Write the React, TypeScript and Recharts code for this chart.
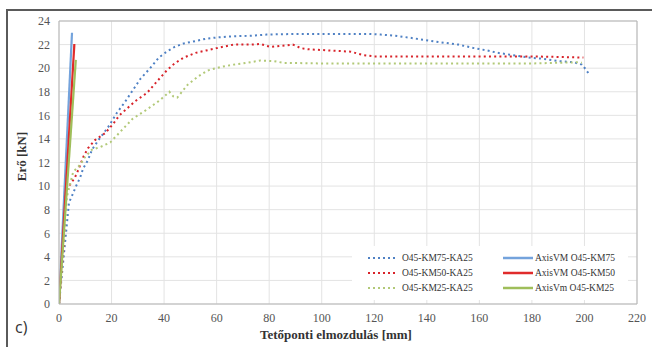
import React from "react";
import { LineChart, Line, XAxis, YAxis, CartesianGrid, ReferenceLine, Legend } from "recharts";

const xTicks = [0, 20, 40, 60, 80, 100, 120, 140, 160, 180, 200, 220];
const yTicks = [0, 2, 4, 6, 8, 10, 12, 14, 16, 18, 20, 22, 24];

const km75X = [0, 2, 3.8, 4.8, 6.5, 8, 9.2, 11, 12.6, 15, 18.7, 22, 25, 28, 31, 34.7, 38, 41, 44, 47.5, 52, 56, 60, 66, 73, 79, 90, 100, 111, 118, 122.5, 128, 133, 139, 145, 152, 158, 163, 167, 173, 178.6, 184, 190, 196, 199, 200.5, 202];
const km75Y = [0, 4.5, 8.6, 9.1, 10, 10.7, 11.5, 12.2, 13.1, 13.9, 15, 16.2, 17.1, 18.1, 19.1, 20.0, 20.9, 21.4, 21.8, 22.1, 22.3, 22.5, 22.6, 22.7, 22.75, 22.85, 22.9, 22.9, 22.9, 22.9, 22.85, 22.75, 22.6, 22.4, 22.2, 22.0, 21.7, 21.5, 21.3, 21.1, 20.9, 20.8, 20.6, 20.5, 20.3, 19.9, 19.4];

const km50X = [0, 1.8, 2.7, 3.5, 6, 7.4, 9.3, 11, 13.7, 17.6, 20.7, 23, 26, 29, 33.5, 37, 41, 44, 47.5, 52, 56, 60, 66.5, 73, 76.7, 80.5, 85, 89, 92, 95, 103, 111, 116, 120, 140, 160, 180, 199.6];
const km50Y = [0, 5, 9.5, 9.9, 10.7, 11.4, 12.5, 13.2, 13.9, 14.5, 15.3, 16.0, 16.6, 17.2, 17.9, 18.8, 19.8, 20.4, 20.9, 21.3, 21.5, 21.7, 22.0, 22.0, 22.05, 21.8, 21.9, 22.0, 21.7, 21.6, 21.5, 21.4, 21.1, 21.0, 21.0, 21.0, 21.0, 20.9];

const km25X = [0, 1.6, 3, 5.4, 8, 10, 12.6, 15.6, 19.5, 23.3, 28, 33.5, 38.5, 42, 43.5, 45, 49, 53, 56.5, 61.5, 66.4, 70, 76.7, 81.7, 85.5, 100, 120, 140, 160, 180, 197.7, 199];
const km25Y = [0, 4.8, 9.1, 11.2, 11.8, 12.5, 13.1, 13.3, 13.7, 14.6, 15.7, 16.5, 17.3, 18.0, 17.6, 17.5, 18.6, 19.3, 19.8, 20.1, 20.3, 20.4, 20.65, 20.6, 20.45, 20.4, 20.4, 20.4, 20.4, 20.4, 20.5, 20.45];

const axisVm75X = [0, 4.95];
const axisVm75Y = [0, 23.0];
const axisVm50X = [0, 5.85];
const axisVm50Y = [0, 22.05];
const axisVm25X = [0, 6.4];
const axisVm25Y = [0, 20.7];

const seriesNames = ["O45-KM75-KA25", "O45-KM50-KA25", "O45-KM25-KA25", "AxisVM O45-KM75", "AxisVM O45-KM50", "AxisVm O45-KM25"];

const zip = (xs: number[], ys: number[]) => xs.map((x, i) => ({ x, y: ys[i] }));

const C = {
  blueDot: "#4f81c4",
  redDot: "#d8232a",
  greenDot: "#b2c978",
  blue: "#74a3dc",
  red: "#e02b2b",
  green: "#9fbe5a",
};

const FONT = "'Liberation Serif', 'Times New Roman', serif";

const LegendBox = () => {
  const rows = [
    [seriesNames[0], C.blueDot, seriesNames[3], C.blue],
    [seriesNames[1], C.redDot, seriesNames[4], C.red],
    [seriesNames[2], C.greenDot, seriesNames[5], C.green],
  ];
  return (
    <div style={{ background: "#fff", width: 276, height: 54, fontFamily: FONT, fontSize: 9.5, color: "#333" }}>
      <svg width={276} height={54} style={{ fontFamily: FONT }}>
        {rows.map((r, i) => {
          const y = 12 + i * 15;
          return (
            <g key={i}>
              <line x1={16} x2={46} y1={y} y2={y} stroke={r[1] as string} strokeWidth={2} strokeDasharray="2 3" />
              <text x={50} y={y} dy="0.35em" fill="#333" style={{ fontFamily: FONT, fontSize: 9.5 }}>{r[0]}</text>
              <line x1={151} x2={181} y1={y} y2={y} stroke={r[3] as string} strokeWidth={2.5} />
              <text x={183} y={y} dy="0.35em" fill="#333" style={{ fontFamily: FONT, fontSize: 9.5 }}>{r[2]}</text>
            </g>
          );
        })}
      </svg>
    </div>
  );
};

export default function App() {
  return (
    <div style={{ position: "absolute", left: 0, top: 0, width: 652, height: 347, background: "#fff", overflow: "hidden", fontFamily: FONT }}>
      <div style={{ position: "absolute", left: 6, top: 9, width: 646, height: 2, background: "#5a5a5a" }} />
      <div style={{ position: "absolute", left: 6, top: 9, width: 2, height: 338, background: "#5a5a5a" }} />
      <div style={{ position: "absolute", left: 15, top: 317, fontFamily: "'Open Sans', 'Noto Sans', sans-serif", fontSize: 16, color: "#333", lineHeight: "20px" }}>c)</div>
      <div style={{ position: "absolute", left: 0, top: 0 }}>
        <LineChart width={652} height={347} margin={{ top: 21, right: 15, bottom: 13, left: 0 }} style={{ fontFamily: FONT }}>
          <CartesianGrid stroke="#e3e3e3" strokeWidth={1} />
          <XAxis
            type="number"
            dataKey="x"
            domain={[0, 220]}
            ticks={xTicks}
            interval={0}
            height={30}
            tickSize={0}
            tickMargin={9}
            axisLine={{ stroke: "#b5b5b5" }}
            tick={{ fontFamily: FONT, fontSize: 12, fill: "#555", style: { fontFamily: FONT } }}
            allowDataOverflow
            label={{ value: "Tetőponti elmozdulás [mm]", position: "center", dx: -12, dy: 15, style: { fontFamily: FONT, fontSize: 13, fontWeight: "bold", fill: "#333" } }}
          />
          <YAxis
            type="number"
            dataKey="y"
            domain={[0, 24]}
            ticks={yTicks}
            interval={0}
            width={59}
            tickSize={0}
            tickMargin={9}
            axisLine={{ stroke: "#b5b5b5" }}
            tick={{ fontFamily: FONT, fontSize: 12, fill: "#555", style: { fontFamily: FONT } }}
            label={{ value: "Erő [kN]", angle: -90, position: "center", dx: -8, dy: -6, style: { fontFamily: FONT, fontSize: 13, fontWeight: "bold", fill: "#333" } }}
          />
          <ReferenceLine x={220} stroke="#b5b5b5" />
          <ReferenceLine y={24} stroke="#b5b5b5" />
          <Line data={zip(km75X, km75Y)} dataKey="y" name={seriesNames[0]} stroke={C.blueDot} strokeWidth={2} strokeDasharray="2 3.2" dot={false} isAnimationActive={false} />
          <Line data={zip(km50X, km50Y)} dataKey="y" name={seriesNames[1]} stroke={C.redDot} strokeWidth={2} strokeDasharray="2 3.2" dot={false} isAnimationActive={false} />
          <Line data={zip(km25X, km25Y)} dataKey="y" name={seriesNames[2]} stroke={C.greenDot} strokeWidth={2} strokeDasharray="2 3.2" dot={false} isAnimationActive={false} />
          <Line data={zip(axisVm75X, axisVm75Y)} dataKey="y" name={seriesNames[3]} stroke={C.blue} strokeWidth={2.2} dot={false} isAnimationActive={false} />
          <Line data={zip(axisVm50X, axisVm50Y)} dataKey="y" name={seriesNames[4]} stroke={C.red} strokeWidth={2.2} dot={false} isAnimationActive={false} />
          <Line data={zip(axisVm25X, axisVm25Y)} dataKey="y" name={seriesNames[5]} stroke={C.green} strokeWidth={2.2} dot={false} isAnimationActive={false} />
          <Legend
            layout="vertical"
            align="center"
            verticalAlign="middle"
            content={() => <LegendBox />}
            wrapperStyle={{ left: 352, top: 246, width: 276, height: 54, margin: 0, padding: 0 }}
          />
        </LineChart>
      </div>
    </div>
  );
}
